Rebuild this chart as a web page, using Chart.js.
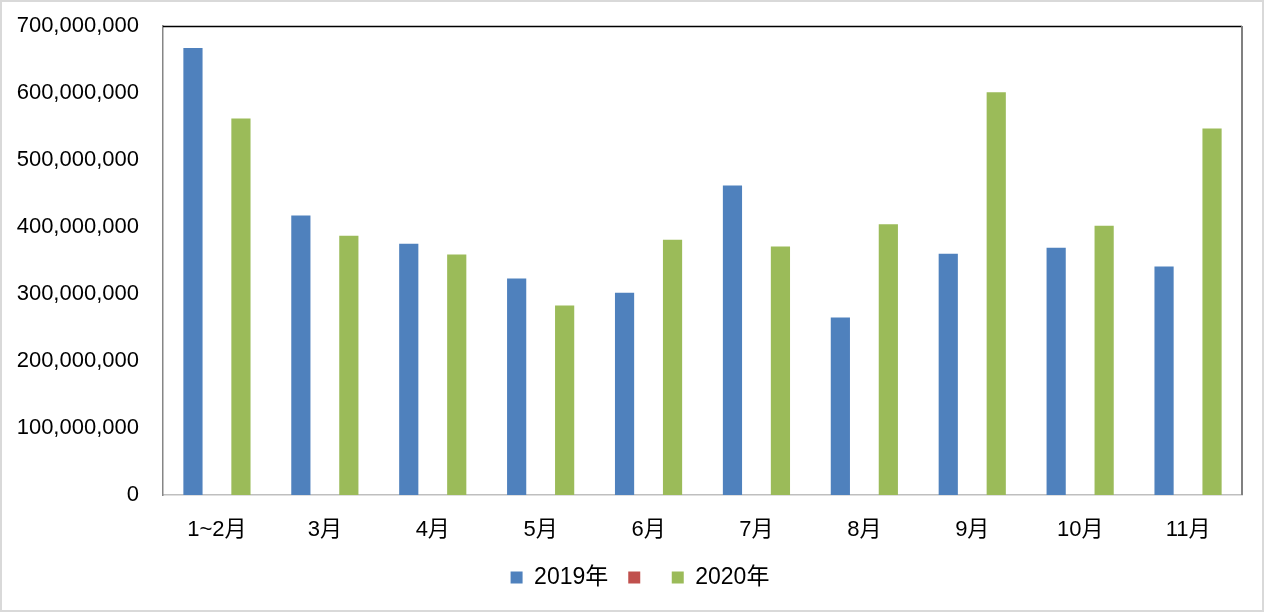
<!DOCTYPE html>
<html>
<head>
<meta charset="utf-8">
<script src="https://cdn.jsdelivr.net/npm/chart.js@4"></script>
<style>
  html, body { margin: 0; padding: 0; background: #fff; }
  #wrap {
    width: 1264px;
    height: 612px;
    box-sizing: border-box;
    border: 2px solid #d9d9d9;
    position: relative;
  }
</style>
</head>
<body>
<div id="wrap"><canvas id="chart"></canvas></div>
<script>
const months = ['1~2月', '3月', '4月', '5月', '6月', '7月', '8月', '9月', '10月', '11月'];
const values2019 = [667e6, 417e6, 375e6, 323e6, 302e6, 462e6, 265e6, 360e6, 369e6, 341e6];
const valuesEmpty = [null, null, null, null, null, null, null, null, null, null];
const values2020 = [562e6, 387e6, 359e6, 283e6, 381e6, 371e6, 404e6, 601e6, 402e6, 547e6];
const yTicks = { min: 0, max: 700e6, step: 100e6 };

const font = "'Liberation Sans', Arial, 'Noto Sans CJK SC', sans-serif";

// plot frame (top + right) and a small nudge of the legend to the right
const frame = {
  id: 'frame',
  afterLayout(chart) {
    if (chart.legend) {
      chart.legend.left += 18;
      chart.legend.right += 18;
    }
  },
  afterDraw(chart) {
    const { ctx, chartArea: a } = chart;
    ctx.save();
    ctx.lineWidth = 1.5;
    ctx.strokeStyle = '#000';
    ctx.beginPath();
    ctx.moveTo(a.left, a.top + 0.5);
    ctx.lineTo(a.right, a.top + 0.5);
    ctx.stroke();
    ctx.strokeStyle = '#808080';
    ctx.lineWidth = 2;
    ctx.beginPath();
    ctx.moveTo(a.right, a.top);
    ctx.lineTo(a.right, a.bottom);
    ctx.stroke();
    ctx.restore();
  },
};

new Chart(document.getElementById('chart'), {
  type: 'bar',
  data: {
    labels: months,
    datasets: [
      { label: '2019年', data: values2019, backgroundColor: '#4f81bd' },
      { label: '', data: valuesEmpty, backgroundColor: '#c0504d' },
      { label: '2020年', data: values2020, backgroundColor: '#9bbb59' },
    ],
  },
  options: {
    responsive: true,
    maintainAspectRatio: false,
    animation: false,
    layout: { padding: { top: 24, right: 20, left: 0, bottom: 11 } },
    datasets: { bar: { categoryPercentage: 0.667, barPercentage: 0.8 } },
    plugins: {
      tooltip: { enabled: false },
      legend: {
        position: 'bottom',
        labels: {
          boxWidth: 12,
          boxHeight: 12,
          padding: 20,
          color: '#000',
          font: { family: font, size: 23 },
        },
      },
    },
    scales: {
      x: {
        grid: { display: false, drawTicks: false },
        border: { color: '#bfbfbf', width: 1.5 },
        ticks: { color: '#000', padding: 22, font: { family: font, size: 22 } },
        afterFit: (s) => { s.height = 51; },
      },
      y: {
        min: yTicks.min,
        max: yTicks.max,
        grid: { display: false, drawTicks: false },
        border: { color: '#868686', width: 1.5 },
        ticks: {
          stepSize: yTicks.step,
          color: '#000',
          padding: 24,
          font: { family: font, size: 22 },
          callback: (v) => v.toLocaleString('en-US'),
        },
        afterFit: (s) => {
          s.width = 161;
          s.paddingTop = 0;
          s.paddingBottom = 0;
        },
      },
    },
  },
  plugins: [frame],
});
</script>
</body>
</html>
